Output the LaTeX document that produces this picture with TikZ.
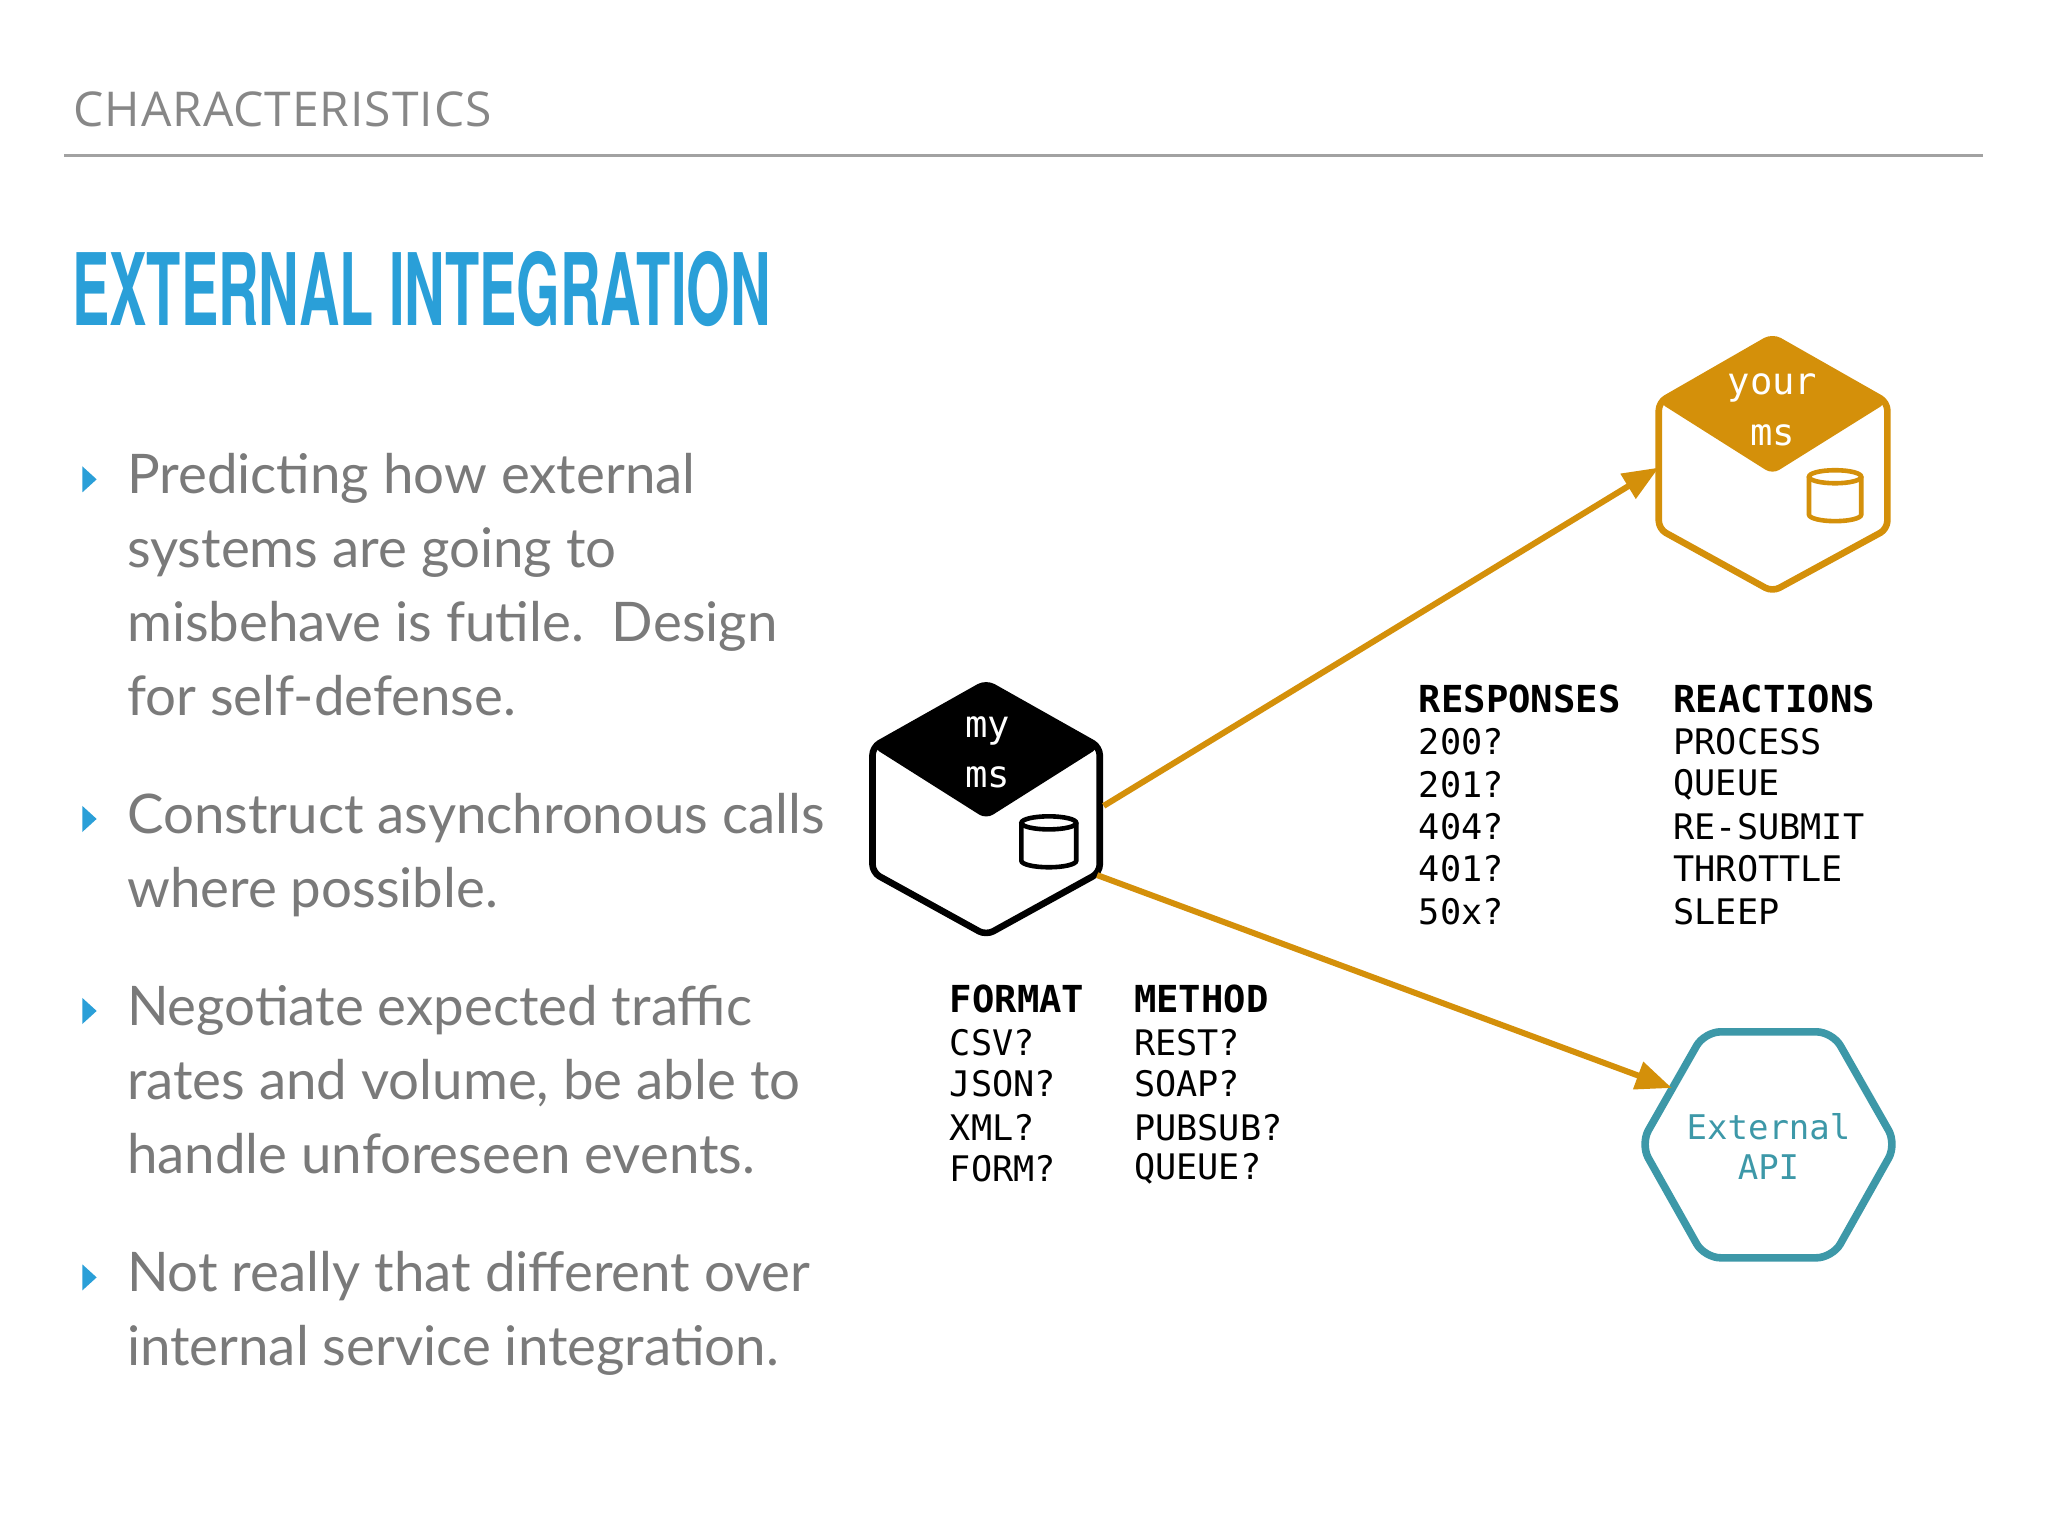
\documentclass[tikz,border=0pt]{standalone}
\usepackage{fontspec}
\setmainfont{Lato}
\newfontfamily\monof{DejaVu Sans Mono}
\newfontfamily\condf{TeX Gyre Heros}[FakeStretch=0.56]
\newfontfamily\headf{Open Sans}[LetterSpace=2]
\usetikzlibrary{arrows.meta}
\definecolor{ttl}{HTML}{2A9FD8}
\definecolor{gtx}{HTML}{7A7A7A}
\definecolor{org}{HTML}{D4900A}
\definecolor{tea}{HTML}{3D98A8}
\tikzset{
 mono/.style={font=\monof\fontsize{17.6}{21.2}\selectfont,anchor=west,inner sep=0},
 hdr/.style={mono,font=\monof\bfseries\fontsize{18.6}{21.2}\selectfont},
 body/.style={font=\fontsize{27.3}{37}\selectfont,text=gtx,anchor=north west,align=left,inner sep=0},
 bul/.style={fill=ttl,draw=none},
 hex/.style={line width=3.3pt,rounded corners=4pt,line join=round},
 arr/.style={draw=org,line width=3pt,-{Triangle[length=18pt,width=14pt]}},
}
\begin{document}
\begin{tikzpicture}[x=0.653pt,y=-0.653pt]
\useasboundingbox[fill=white] (0,0) rectangle (1568,1176);
\node[font=\headf\fontsize{24}{28}\selectfont,text=gtx!90,anchor=west,inner sep=0] (head) at (56,84) {CHARACTERISTICS};
\draw[gtx!70,line width=1.6pt] (49,119) -- (1518,119);
\node[font=\condf\bfseries\fontsize{50}{56}\selectfont,text=ttl,anchor=west,inner sep=0] (title) at (55,221) {EXTERNAL INTEGRATION};
% bullets
\foreach \y/\n in {367/b1,627/b2,774/b3,978/b4}{
 \fill[bul] (63,\y-10) -- (74,\y) -- (63,\y+10) -- cycle;}
\node[body] (p1) at (97,347) {Predicting how external\\systems are going to\\misbehave is futile.\ \ Design\\for self-defense.};
\node[body] (p2) at (97,607) {Construct asynchronous calls\\where possible.};
\node[body] (p3) at (97,754) {Negotiate expected traffic\\rates and volume, be able to\\handle unforeseen events.};
\node[body] (p4) at (97,958) {Not really that different over\\internal service integration.};
% my ms
\fill[black,rounded corners=4pt] (755,523) -- (668,572) -- (755,627) -- (842,572) -- cycle;
\draw[hex,black] (755,523) -- (842,572) -- (842,668) -- (755,716) -- (668,668) -- (668,572) -- cycle;
\node[mono,anchor=center,text=white,font=\monof\fontsize{18.6}{21}\selectfont] (my) at (756,560) {my};
\node[mono,anchor=center,text=white,font=\monof\fontsize{18.6}{21}\selectfont] (ms1) at (756,595) {ms};
\draw[line width=2.3pt] (782,630) -- (782,659) arc[start angle=180,end angle=0,x radius=21,y radius=5] -- (824,630);
\draw[line width=2.3pt] (803,630) ellipse[x radius=21,y radius=5];
\coordinate (mya) at (845,617);
\coordinate (myb) at (840,670);
% your ms
\fill[org,rounded corners=4pt] (1357,258) -- (1270,308) -- (1357,363) -- (1445,308) -- cycle;
\draw[hex,org] (1357,258) -- (1445,308) -- (1445,405) -- (1357,453) -- (1270,405) -- (1270,308) -- cycle;
\node[mono,anchor=center,text=white,font=\monof\fontsize{18.6}{21}\selectfont] (your) at (1357,297) {your};
\node[mono,anchor=center,text=white,font=\monof\fontsize{18.6}{21}\selectfont] (ms2) at (1357,333) {ms};
\draw[org,line width=2.3pt] (1385,365) -- (1385,394) arc[start angle=180,end angle=0,x radius=20,y radius=5] -- (1425,365);
\draw[org,line width=2.3pt] (1405,365) ellipse[x radius=20,y radius=5];
\coordinate (yin) at (1270,358);
% external
\draw[hex,tea,line width=3.8pt,rounded corners=8pt] (1256,876) -- (1305,790) -- (1403,790) -- (1452,876) -- (1403,963) -- (1305,963) -- cycle;
\node[font=\monof\fontsize{17}{20}\selectfont,text=tea,align=center,anchor=center] (ext) at (1354,878) {External\\API};
\coordinate (ein) at (1280,833);
% arrows
\draw[arr] (mya) -- (yin);
\draw[arr] (myb) -- (ein);
% tables
\node[hdr] (fmt) at (727,765) {FORMAT};
\node[hdr] (mth) at (868,765) {METHOD};
\foreach \t/\y in {CSV?/798,JSON?/830,XML?/863,FORM?/895}{\node[mono] at (727,\y) {\t};}
\foreach \t/\y in {REST?/798,SOAP?/830,PUBSUB?/863,QUEUE?/895}{\node[mono] at (868,\y) {\t};}
\node[hdr] (rsp) at (1086,535) {RESPONSES};
\node[hdr] (rea) at (1281,535) {REACTIONS};
\foreach \t/\y in {200?/568,201?/601,404?/633,401?/665,50x?/698}{\node[mono] at (1086,\y) {\t};}
\foreach \t/\y in {PROCESS/568,QUEUE/601,RE-SUBMIT/633,THROTTLE/665,SLEEP/698}{\node[mono] at (1281,\y) {\t};}
\end{tikzpicture}
\end{document}
